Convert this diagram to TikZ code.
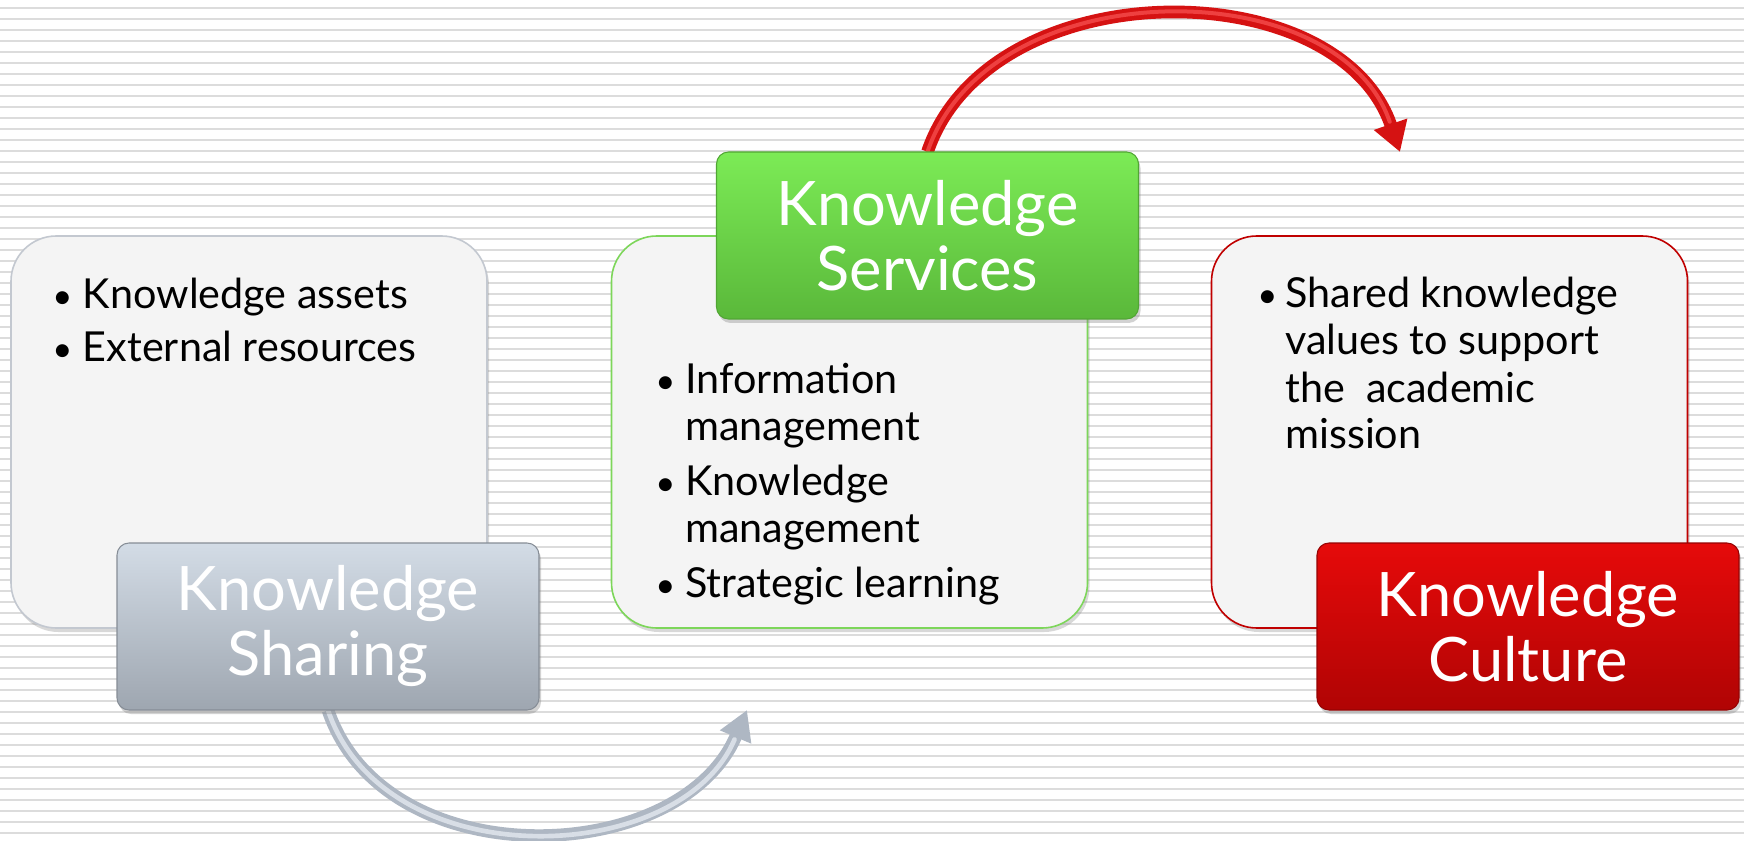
\documentclass[tikz,border=0pt]{standalone}
\usepackage{fontspec}
\setmainfont{Lato}
\usetikzlibrary{arrows.meta,shadows}
\definecolor{stripecol}{HTML}{DCDCDC}
\definecolor{boxfill}{HTML}{F4F4F4}
\definecolor{grayedge}{HTML}{C3C8D0}
\definecolor{greenedge}{HTML}{7DD65A}
\definecolor{rededge}{HTML}{C00000}
\definecolor{graytop}{HTML}{D3DCE6}
\definecolor{graybot}{HTML}{9EA6B0}
\definecolor{greentop}{HTML}{7CEB56}
\definecolor{greenbot}{HTML}{5AB83A}
\definecolor{redtop}{HTML}{E60A0A}
\definecolor{redbot}{HTML}{B00404}
\definecolor{redarrow}{HTML}{D51212}
\definecolor{redlight}{HTML}{EE4040}
\definecolor{grayarrow}{HTML}{AEB7C3}
\definecolor{graylight}{HTML}{D8DEE6}
\newcommand{\mybul}{{\fontsize{26}{26}\selectfont\textbullet}}
\begin{document}
\begin{tikzpicture}[x=0.75pt,y=-0.75pt,
  contentbox/.style={rectangle, rounded corners=34pt, minimum width=357pt,
    minimum height=294pt, fill=boxfill, line width=1.2pt, inner sep=0pt,
    drop shadow={shadow xshift=1.5pt, shadow yshift=-3pt, opacity=.3}},
  headbox/.style={rectangle, rounded corners=9pt, minimum width=316.5pt,
    minimum height=125.25pt, text=white, align=center, inner sep=0pt,
    font=\fontsize{46}{48.75}\selectfont, line width=0.8pt,
    drop shadow={shadow xshift=1.5pt, shadow yshift=-3pt, opacity=.35}},
  ghostbox/.style={rectangle, minimum width=316.5pt, minimum height=125.25pt,
    inner sep=0pt},
  itemtext/.style={anchor=base west, inner sep=0pt, text=black,
    font=\fontsize{31}{35.25}\selectfont},
  stripe/.style={stripecol, line width=1.6pt},
  redarr/.style={redarrow, line width=9.5pt, -{Triangle[length=22pt,width=25pt]}},
  redhi/.style={redlight, line width=3pt, shorten >=24pt, line cap=round},
  grayarr/.style={grayarrow, line width=9.5pt, -{Triangle[length=22pt,width=24pt]}},
  grayhi/.style={graylight, line width=3.5pt, shorten >=24pt, line cap=round}
]
\useasboundingbox (0,0) rectangle (1744,841);
\fill[white] (0,0) rectangle (1744,841);
\foreach \k in {0,...,75} { \draw[stripe] (0,8+11*\k) -- (1744,8+11*\k); }

% content boxes
\node[contentbox, draw=grayedge] (leftbox) at (249,432) {};
\node[contentbox, draw=greenedge] (midbox) at (849.5,432) {};
\node[contentbox, draw=rededge] (rightbox) at (1449.5,432) {};

% content texts
\node[itemtext] (lefttext) at (52,309) {%
  \begin{tabular}[t]{@{}p{23pt}@{}l@{}}
  \mybul & Knowledge assets\\[4.5pt]
  \mybul & External resources
  \end{tabular}};
\node[itemtext] (midtext) at (655,393) {%
  \begin{tabular}[t]{@{}p{22.5pt}@{}l@{}}
  \mybul & Information\\
         & management\\[6pt]
  \mybul & Knowledge\\
         & management\\[6pt]
  \mybul & Strategic learning
  \end{tabular}};
\node[itemtext] (righttext) at (1257,308) {%
  \begin{tabular}[t]{@{}p{21pt}@{}l@{}}
  \mybul & Shared knowledge\\
         & values to support\\
         & the\ \ academic\\
         & mission
  \end{tabular}};

% arrow end points
\coordinate (gtip) at (747,710);
\coordinate (rtip) at (1400,152);

% header outlines used as arrow anchors (arrows are drawn beneath the headers)
\node[ghostbox] (shareghost) at (328,626.5) {};
\node[ghostbox] (servghost) at (927.5,235.5) {};
\draw[grayarr] (shareghost.south) .. controls +(57,168) and +(-67,158) .. (gtip);
\draw[grayhi] (shareghost.south) .. controls +(57,168) and +(-67,158) .. (gtip);
\draw[redarr] (servghost.north) .. controls +(62,-182) and +(-62,-182) .. (rtip);
\draw[redhi] (servghost.north) .. controls +(62,-182) and +(-62,-182) .. (rtip);

% header boxes
\node[headbox, top color=graytop, bottom color=graybot, draw=graybot!85!black] (share) at (shareghost) {Knowledge\\Sharing};
\node[headbox, top color=greentop, bottom color=greenbot, draw=greenbot!90!black] (serv) at (servghost) {Knowledge\\Services};
\node[headbox, top color=redtop, bottom color=redbot, draw=redbot!85!black] (cult) at (1528,626.5) {Knowledge\\Culture};
\end{tikzpicture}
\end{document}
